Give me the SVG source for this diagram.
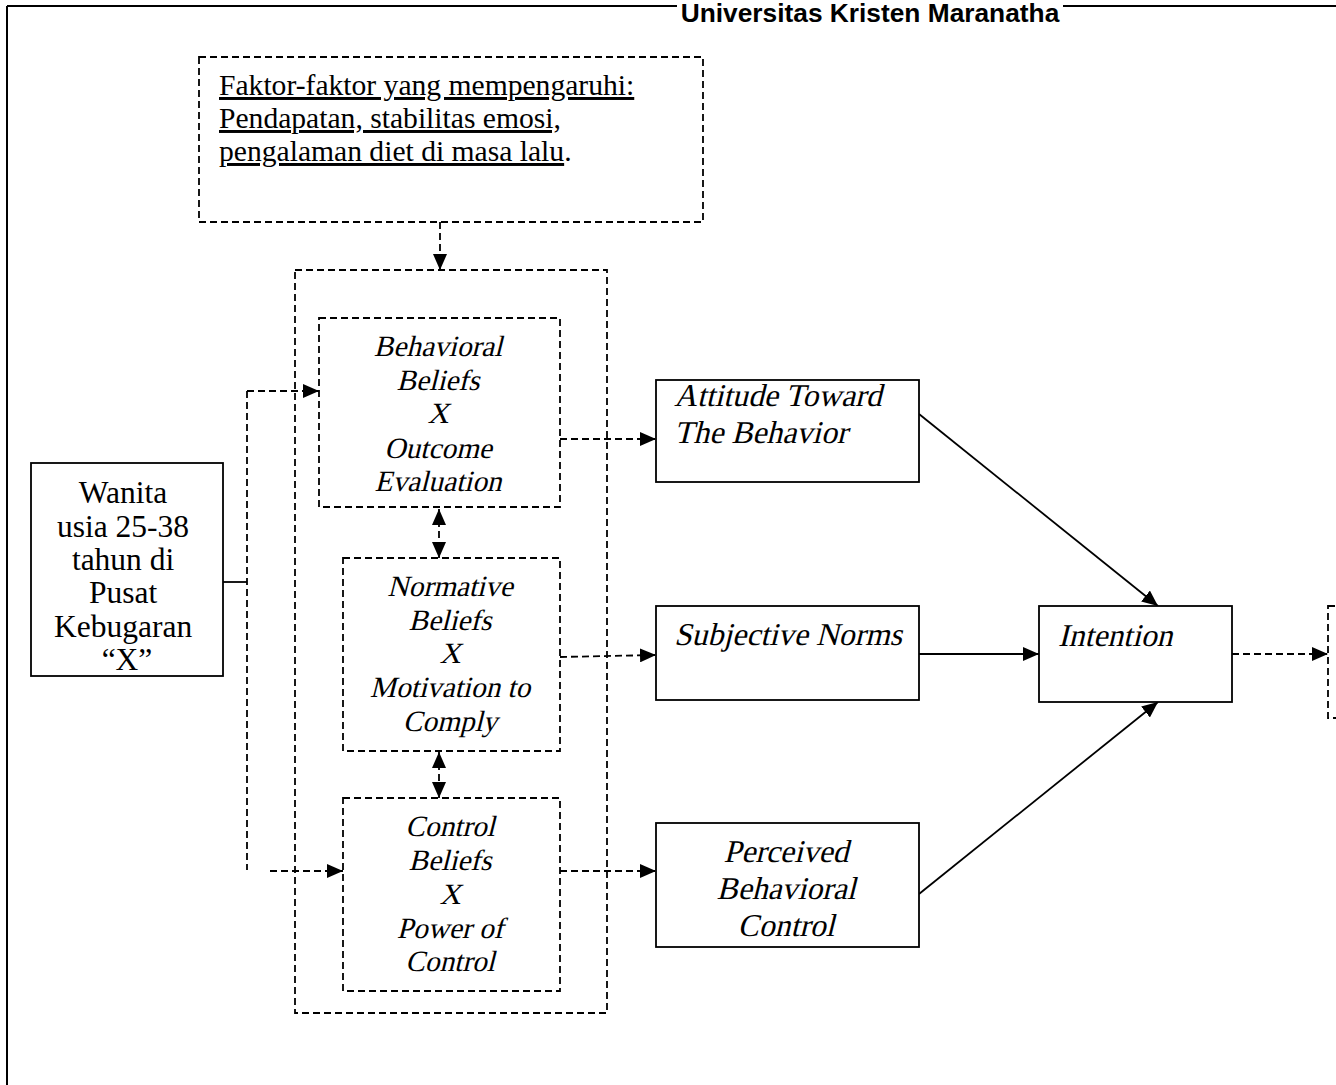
<svg xmlns="http://www.w3.org/2000/svg" width="1336" height="1085" viewBox="0 0 1336 1085">
<defs>
<style>
.solid{fill:#fff;stroke:#000;stroke-width:1.8}
.dash{fill:none;stroke:#000;stroke-width:1.8;stroke-dasharray:7 4}
.dline{fill:none;stroke:#000;stroke-width:1.8;stroke-dasharray:7 4}
.sline{fill:none;stroke:#000;stroke-width:1.8}
.ti{font-family:"Liberation Serif",serif;fill:#000}
.m{text-anchor:middle}
.s{font-size:29.3px}
.l{font-size:31.7px}
.tn{font-family:"Liberation Serif",serif;fill:#000}
</style>
<marker id="ah" markerUnits="userSpaceOnUse" markerWidth="16" markerHeight="14" refX="16" refY="7" orient="auto-start-reverse" viewBox="0 0 16 14">
<path d="M0,0 L16,7 L0,14 Z" fill="#000" stroke="none"/>
</marker>
</defs>
<rect x="0" y="0" width="1336" height="1085" fill="#fff"/>
<g id="page-frame">
<line x1="7" y1="6" x2="1336" y2="6" stroke="#000" stroke-width="2"/>
<line x1="7" y1="6" x2="7" y2="1085" stroke="#000" stroke-width="2"/>
<rect x="677" y="0" width="386" height="22" fill="#fff"/>
<text x="870" y="22" text-anchor="middle" font-family="'Liberation Sans',Arial,sans-serif" font-weight="bold" font-size="26.3">Universitas Kristen Maranatha</text>
</g>

<g id="connectors">
<line class="dline" x1="440" y1="222" x2="440" y2="270" marker-end="url(#ah)"/>
<line class="sline" x1="223" y1="582" x2="247" y2="582"/>
<line class="dline" x1="247" y1="391" x2="247" y2="870"/>
<line class="dline" x1="247" y1="391" x2="319" y2="391" marker-end="url(#ah)"/>
<line class="dline" x1="270" y1="871" x2="343" y2="871" marker-end="url(#ah)"/>
<line class="dline" x1="439" y1="509" x2="439" y2="558" marker-start="url(#ah)" marker-end="url(#ah)"/>
<line class="dline" x1="439" y1="752" x2="439" y2="798" marker-start="url(#ah)" marker-end="url(#ah)"/>
<line class="dline" x1="560" y1="439" x2="656" y2="439" marker-end="url(#ah)"/>
<line class="dline" x1="560" y1="657" x2="656" y2="655" marker-end="url(#ah)"/>
<line class="dline" x1="560" y1="871" x2="656" y2="871" marker-end="url(#ah)"/>
<line class="sline" x1="919" y1="414" x2="1158" y2="606" marker-end="url(#ah)"/>
<line class="sline" x1="919" y1="654" x2="1039" y2="654" marker-end="url(#ah)"/>
<line class="sline" x1="919" y1="894" x2="1158" y2="702" marker-end="url(#ah)"/>
<line class="dline" x1="1232" y1="654" x2="1328" y2="654" marker-end="url(#ah)"/>
</g>

<g id="factors">
<rect class="dash" x="199" y="57" width="504" height="165"/>
<text class="tn" font-size="29.6" x="219" y="95" text-decoration="underline">Faktor-faktor yang mempengaruhi:</text>
<text class="tn" font-size="29.6" x="219" y="128" text-decoration="underline">Pendapatan, stabilitas emosi,</text>
<text class="tn" font-size="29.6" x="219" y="161"><tspan text-decoration="underline">pengalaman diet di masa lalu</tspan>.</text>
</g>

<g id="beliefs-group">
<rect class="dash" x="295" y="270" width="312" height="743"/>
</g>

<g id="behavioral-beliefs">
<rect class="dash" x="319" y="318" width="241" height="189"/>
<text class="ti s m" transform="translate(438 356) skewX(-14)">Behavioral</text>
<text class="ti s m" transform="translate(438 389.5) skewX(-14)">Beliefs</text>
<text class="ti s m" transform="translate(438 423) skewX(-14)">X</text>
<text class="ti s m" transform="translate(438 457.5) skewX(-14)">Outcome</text>
<text class="ti s m" transform="translate(438 491) skewX(-14)">Evaluation</text>
</g>

<g id="normative-beliefs">
<rect class="dash" x="343" y="558" width="217" height="193"/>
<text class="ti s m" transform="translate(450 596) skewX(-14)">Normative</text>
<text class="ti s m" transform="translate(450 630) skewX(-14)">Beliefs</text>
<text class="ti s m" transform="translate(450 663) skewX(-14)">X</text>
<text class="ti s m" transform="translate(450 697) skewX(-14)">Motivation to</text>
<text class="ti s m" transform="translate(450 731) skewX(-14)">Comply</text>
</g>

<g id="control-beliefs">
<rect class="dash" x="343" y="798" width="217" height="193"/>
<text class="ti s m" transform="translate(450 836) skewX(-14)">Control</text>
<text class="ti s m" transform="translate(450 869.5) skewX(-14)">Beliefs</text>
<text class="ti s m" transform="translate(450 903.5) skewX(-14)">X</text>
<text class="ti s m" transform="translate(450 937.5) skewX(-14)">Power of</text>
<text class="ti s m" transform="translate(450 971) skewX(-14)">Control</text>
</g>

<g id="wanita">
<rect class="solid" x="31" y="463" width="192" height="213"/>
<text class="tn" font-size="31.5" text-anchor="middle">
<tspan x="127" y="503">Wanita</tspan>
<tspan x="127" y="536.5">usia 25-38</tspan>
<tspan x="127" y="570">tahun di</tspan>
<tspan x="127" y="603">Pusat</tspan>
<tspan x="127" y="636.5">Kebugaran</tspan>
<tspan x="127" y="670">“X”</tspan>
</text>
</g>

<g id="attitude">
<rect class="solid" x="656" y="380" width="263" height="102"/>
<text class="ti l" transform="translate(674 405.5) skewX(-14)">Attitude Toward</text>
<text class="ti l" transform="translate(674 443) skewX(-14)">The Behavior</text>
</g>

<g id="subjective-norms">
<rect class="solid" x="656" y="606" width="263" height="94"/>
<text class="ti l" transform="translate(674 645) skewX(-14)">Subjective Norms</text>
</g>

<g id="perceived-control">
<rect class="solid" x="656" y="823" width="263" height="124"/>
<text class="ti l m" transform="translate(786 862) skewX(-14)">Perceived</text>
<text class="ti l m" transform="translate(786 899) skewX(-14)">Behavioral</text>
<text class="ti l m" transform="translate(786 936) skewX(-14)">Control</text>
</g>

<g id="intention">
<rect class="solid" x="1039" y="606" width="193" height="96"/>
<text class="ti l" transform="translate(1058 646) skewX(-14)">Intention</text>
</g>

<g id="behavior">
<rect class="dash" x="1328" y="606" width="60" height="112"/>
</g>
</svg>
